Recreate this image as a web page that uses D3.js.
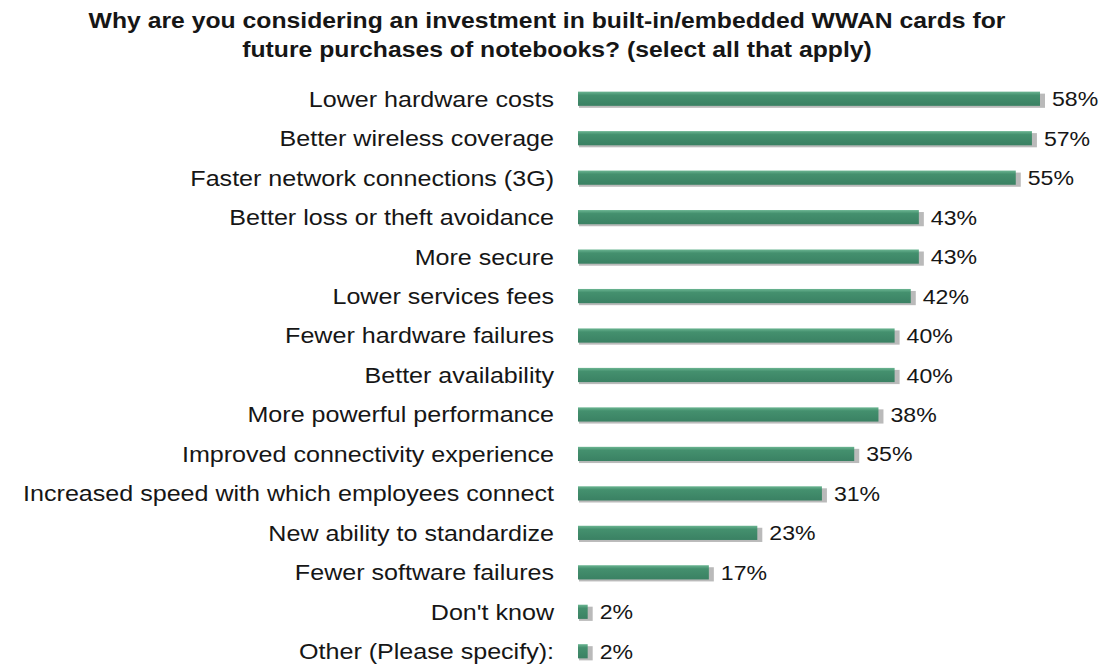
<!DOCTYPE html>
<html>
<head>
<meta charset="utf-8">
<script src="https://cdn.jsdelivr.net/npm/d3@7"></script>
<style>
  html, body { margin: 0; padding: 0; background: #ffffff; }
  svg { display: block; }
  text { font-family: "Liberation Sans", Arial, sans-serif; fill: #161616; }
</style>
</head>
<body>
<svg id="chart" width="1110" height="667"></svg>
<script>
const titleLines = [
  "Why are you considering an investment in built-in/embedded WWAN cards for",
  "future purchases of notebooks? (select all that apply)"
];
const categories = [
  "Lower hardware costs",
  "Better wireless coverage",
  "Faster network connections (3G)",
  "Better loss or theft avoidance",
  "More secure",
  "Lower services fees",
  "Fewer hardware failures",
  "Better availability",
  "More powerful performance",
  "Improved connectivity experience",
  "Increased speed with which employees connect",
  "New ability to standardize",
  "Fewer software failures",
  "Don't know",
  "Other (Please specify):"
];
const values = [58, 57, 55, 43, 43, 42, 40, 40, 38, 35, 31, 23, 17, 2, 2];

const svg = d3.select("#chart");

const defs = svg.append("defs");
const grad = defs.append("linearGradient")
  .attr("id", "barFill").attr("x1", 0).attr("y1", 0).attr("x2", 0).attr("y2", 1);
grad.append("stop").attr("offset", "0%").attr("stop-color", "#6bb592");
grad.append("stop").attr("offset", "25%").attr("stop-color", "#44906e");
grad.append("stop").attr("offset", "100%").attr("stop-color", "#3a8163");

// value axis starts just below 1% so the smallest bars stay short
const x = d3.scaleLinear().domain([0.8, 58]).range([578, 1040]);
const y = d3.scaleBand().domain(categories).range([79, 671]).paddingInner(0.64).paddingOuter(0.32);

// Title (slightly widened glyphs)
const titleX = [547, 557];
titleLines.forEach((t, i) => {
  svg.append("text")
    .attr("transform", `translate(${titleX[i]},${28 + i * 29}) scale(1.125,1)`)
    .attr("text-anchor", "middle")
    .style("font-weight", "bold")
    .style("font-size", "22px")
    .text(t);
});

const rows = svg.append("g").selectAll("g")
  .data(categories.map((c, i) => ({ c, v: values[i] })))
  .join("g")
  .attr("transform", d => `translate(0,${y(d.c)})`);

const bh = y.bandwidth();

// drop shadow under each bar
rows.append("rect")
  .attr("x", x.range()[0] + 1)
  .attr("y", 2)
  .attr("width", d => x(d.v) - x.range()[0] + 4)
  .attr("height", bh)
  .attr("fill", "#8c8c8c")
  .attr("opacity", 0.6);

rows.append("rect")
  .attr("x", x.range()[0])
  .attr("y", 0)
  .attr("width", d => x(d.v) - x.range()[0])
  .attr("height", bh)
  .attr("fill", "url(#barFill)");

// category labels
rows.append("text")
  .attr("transform", `translate(554,${bh / 2}) scale(1.14,1)`)
  .attr("dy", "0.36em")
  .attr("text-anchor", "end")
  .style("font-size", "22px")
  .text(d => d.c);

// value labels
rows.append("text")
  .attr("transform", d => `translate(${x(d.v) + 12},${bh / 2}) scale(1.1,1)`)
  .attr("dy", "0.36em")
  .style("font-size", "21px")
  .text(d => d.v + "%");
</script>
</body>
</html>
